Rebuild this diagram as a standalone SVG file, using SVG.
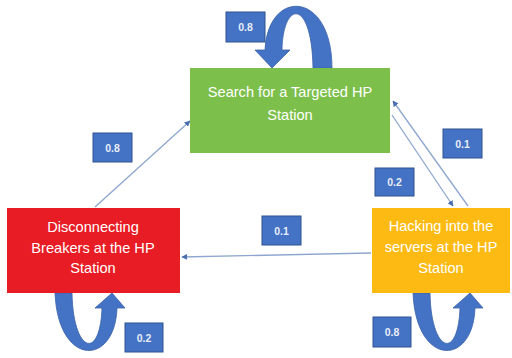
<svg xmlns="http://www.w3.org/2000/svg" width="512" height="358" viewBox="0 0 512 358">
<defs>
<style>
.node text{font-family:"Liberation Sans",Arial,sans-serif;font-size:14.6px;fill:#FFFFFF;text-anchor:middle}
.lbl rect{fill:#4472C4;stroke:#2F528F;stroke-width:1}
.lbl text{font-family:"Liberation Sans",Arial,sans-serif;font-size:10.5px;font-weight:bold;fill:#E8EEF8;text-anchor:middle}
.conn{stroke:#8EA6CF;stroke-width:1.3;fill:none;marker-end:url(#ah)}
.loop{fill:#4472C4;stroke:#3A62A8;stroke-width:0.8}
</style>
<marker id="ah" viewBox="0 0 10 10" refX="9" refY="5" markerWidth="6" markerHeight="6" orient="auto-start-reverse" markerUnits="userSpaceOnUse">
<path d="M0,0 L10,5 L0,10 Z" fill="#4A6FB0"/>
</marker>
<path id="uloop" d="M55 293 L72 293 C73 352 100 362 102 308 L95 308 L112 293 L125 308 L117 308 C115 367 58 367 55 293 Z"/>
</defs>
<rect width="512" height="358" fill="#FFFFFF"/>

<g id="connectors">
<line class="conn" x1="95" y1="207" x2="190" y2="121"/>
<line class="conn" x1="392" y1="115" x2="453" y2="206"/>
<line class="conn" x1="468" y1="206" x2="393" y2="101"/>
<line class="conn" x1="371" y1="253" x2="182" y2="257"/>
<path class="loop" d="M313 68 L332 68 C332 -10 268 -12 265 50 L255 50 L272 68 L290 50 L282 50 C283 0 312 -2 313 68 Z"/>
<use href="#uloop" class="loop"/>
<use href="#uloop" class="loop" transform="translate(358,0)"/>
</g>

<g id="search" class="node">
<rect x="190" y="68" width="200" height="85" fill="#7DBF4B"/>
<text x="290" y="97">Search for a Targeted HP</text>
<text x="290" y="120">Station</text>
</g>

<g id="disconnect" class="node">
<rect x="7" y="208" width="173" height="85" fill="#E81C24"/>
<text x="93" y="232">Disconnecting</text>
<text x="93" y="253">Breakers at the HP</text>
<text x="93" y="273">Station</text>
</g>

<g id="hacking" class="node">
<rect x="372" y="208" width="138" height="85" fill="#FDBA12"/>
<text x="441" y="231">Hacking into the</text>
<text x="441" y="252">servers at the HP</text>
<text x="441" y="273">Station</text>
</g>

<g id="labels">
<g class="lbl"><rect x="226" y="12" width="39" height="30"/><text x="245.5" y="31">0.8</text></g>
<g class="lbl"><rect x="93" y="133" width="39" height="29"/><text x="112.5" y="151.5">0.8</text></g>
<g class="lbl"><rect x="262" y="216" width="39" height="29"/><text x="281.5" y="234.5">0.1</text></g>
<g class="lbl"><rect x="443" y="129" width="39" height="29"/><text x="462.5" y="147.5">0.1</text></g>
<g class="lbl"><rect x="375" y="168" width="39" height="28"/><text x="394.5" y="186">0.2</text></g>
<g class="lbl"><rect x="125" y="323" width="38" height="29"/><text x="144" y="341.5">0.2</text></g>
<g class="lbl"><rect x="373" y="317" width="38" height="30"/><text x="392" y="336">0.8</text></g>
</g>
</svg>
